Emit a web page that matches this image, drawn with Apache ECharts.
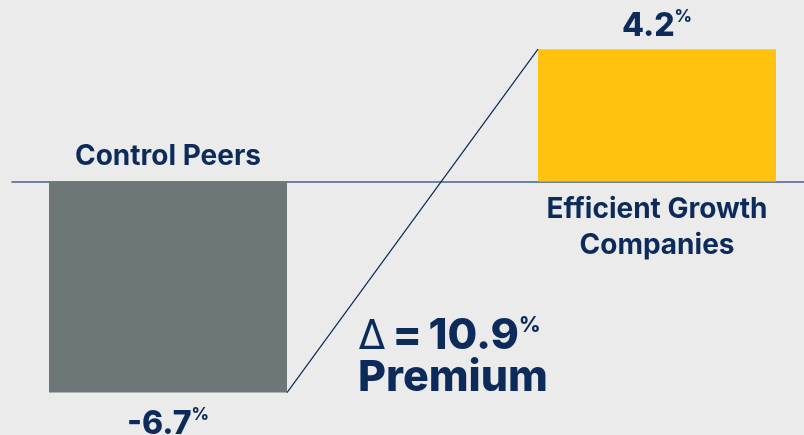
<!DOCTYPE html>
<html>
<head>
<meta charset="utf-8">
<script src="https://cdn.jsdelivr.net/npm/echarts@6/dist/echarts.min.js"></script>
<style>
html,body{margin:0;padding:0;background:#ebebeb;}
#chart{width:804px;height:435px;}
</style>
</head>
<body>
<div id="chart"></div>
<script>
// ---- data ----
const categories = ['Control Peers', 'Efficient Growth Companies'];
const values = [-6.7, 4.2];
const yMin = -7;
const yMax = 5;

// ---- styles ----
const NAVY = '#0c2b5b';
const BAR_COLORS = ['#6e7777', '#fec20f'];
const BAR_W = 238;
const FONT = 'Inter';

// axis categories with a spacer between the two bars
const axisCats = [categories[0], '', categories[1]];
const idx = [0, 2];
const barData = axisCats.map(() => null);
values.forEach((v, i) => {
  barData[idx[i]] = {
    value: v,
    itemStyle: { color: BAR_COLORS[i] },
    label: { position: v < 0 ? 'bottom' : 'top', distance: v < 0 ? 14 : 5 }
  };
});
const nameData = values.map((v, i) => ({
  value: [idx[i], 0],
  label: {
    position: v < 0 ? 'top' : 'bottom',
    distance: v < 0 ? 7 : 10,
    formatter: v < 0 ? categories[i] : categories[i].replace(' Growth ', ' Growth\n')
  }
}));
const diff = (values[1] - values[0]).toFixed(1);

const chart = echarts.init(document.getElementById('chart'), null, { renderer: 'canvas' });
chart.setOption({
  backgroundColor: '#ebebeb',
  animation: false,
  grid: [
    { left: 45.75, right: 24.75, top: 24, height: 378 },
    { left: 12, right: 0, top: 24, height: 378 }
  ],
  xAxis: [
    { type: 'category', gridIndex: 0, data: axisCats, axisLine: { show: false }, axisTick: { show: false }, axisLabel: { show: false } },
    { type: 'value', gridIndex: 1, min: 0, max: 1, axisLine: { show: true, onZero: true, lineStyle: { color: '#40618c', width: 1.5 } }, axisTick: { show: false }, axisLabel: { show: false }, splitLine: { show: false } }
  ],
  yAxis: [
    { type: 'value', gridIndex: 0, min: yMin, max: yMax, show: false },
    { type: 'value', gridIndex: 1, min: yMin, max: yMax, show: false }
  ],
  series: [
    {
      type: 'bar',
      xAxisIndex: 0, yAxisIndex: 0,
      barWidth: BAR_W,
      data: barData,
      label: {
        show: true,
        formatter: p => '{v|' + p.value + '}{p|%}',
        rich: {
          v: { fontFamily: FONT, fontWeight: 800, fontSize: 32, color: NAVY, lineHeight: 36 },
          p: { fontFamily: FONT, fontWeight: 800, fontSize: 17, color: NAVY, verticalAlign: 'top', lineHeight: 22 }
        }
      }
    },
    {
      type: 'scatter',
      xAxisIndex: 0, yAxisIndex: 0,
      symbolSize: 0,
      itemStyle: { opacity: 1 },
      data: nameData,
      label: {
        show: true, opacity: 1,
        fontFamily: FONT, fontWeight: 700, fontSize: 28, color: NAVY, lineHeight: 36, align: 'center'
      },
      z: 5
    },
    {
      type: 'custom',
      xAxisIndex: 0, yAxisIndex: 0,
      data: [[idx[0], values[0], idx[1], values[1]]],
      renderItem: (params, api) => {
        const a = api.coord([api.value(0), api.value(1)]);
        const b = api.coord([api.value(2), api.value(3)]);
        return {
          type: 'line',
          shape: { x1: a[0] + BAR_W / 2, y1: a[1], x2: b[0] - BAR_W / 2, y2: b[1] },
          style: { stroke: NAVY, lineWidth: 1.2 }
        };
      },
      z: 4
    }
  ],
  graphic: [
    {
      type: 'text',
      left: 358,
      top: 315,
      style: {
        text: '{d|Δ}{s| }{e|=}{s| }{n|' + diff + '}{p|%}\n{m|Premium}',
        rich: {
          d: { fontFamily: FONT, fontWeight: 400, fontSize: 41, fill: NAVY, lineHeight: 42 },
          s: { fontFamily: FONT, fontWeight: 800, fontSize: 30, fill: NAVY, lineHeight: 42 },
          e: { fontFamily: FONT, fontWeight: 800, fontSize: 43, fill: NAVY, lineHeight: 42 },
          n: { fontFamily: FONT, fontWeight: 800, fontSize: 43, fill: NAVY, lineHeight: 42 },
          p: { fontFamily: FONT, fontWeight: 800, fontSize: 21, fill: NAVY, verticalAlign: 'top', lineHeight: 24 },
          m: { fontFamily: FONT, fontWeight: 800, fontSize: 43, fill: NAVY, lineHeight: 42 }
        }
      }
    }
  ]
});
</script>
</body>
</html>
